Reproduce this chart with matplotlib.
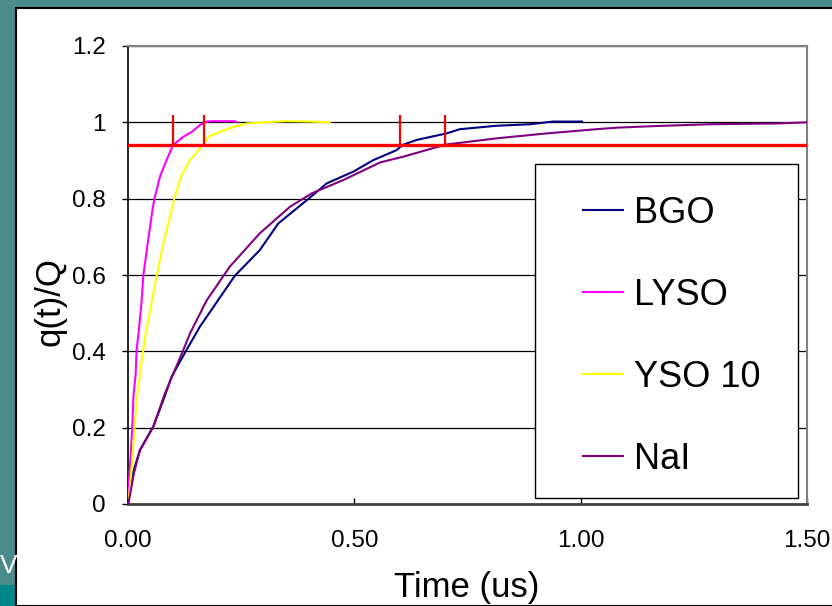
import matplotlib.pyplot as plt
from matplotlib.patches import Rectangle

plt.rcParams['font.family'] = ['Liberation Sans', 'DejaVu Sans']

# integrated charge fraction q(t)/Q vs time (us)
t_bgo = [0, 0.0037, 0.015, 0.0265, 0.056, 0.078, 0.0965, 0.129, 0.159, 0.199, 0.236, 0.291,
         0.332, 0.398, 0.439, 0.498, 0.542, 0.593, 0.607, 0.638, 0.704, 0.733, 0.814, 0.888,
         0.939, 1.003]
q_bgo = [0, 0.045, 0.098, 0.141, 0.203, 0.272, 0.334, 0.403, 0.465, 0.534, 0.598, 0.665,
         0.735, 0.799, 0.840, 0.871, 0.901, 0.927, 0.941, 0.954, 0.971, 0.982, 0.991, 0.995,
         1.002, 1.002]

t_lyso = [0, 0.002, 0.0066, 0.0095, 0.012, 0.017, 0.019, 0.024, 0.030, 0.034, 0.0435, 0.054,
          0.058, 0.0707, 0.085, 0.100, 0.122, 0.141, 0.159, 0.174, 0.188, 0.236, 0.241]
q_lyso = [0, 0.058, 0.141, 0.203, 0.281, 0.342, 0.403, 0.456, 0.53, 0.600, 0.683, 0.770,
          0.798, 0.858, 0.901, 0.941, 0.962, 0.975, 0.993, 1.002, 1.003, 1.003, 1.0]

t_yso = [0, 0.003, 0.0095, 0.0147, 0.019, 0.0285, 0.039, 0.051, 0.063, 0.078, 0.0965, 0.1016,
         0.117, 0.137, 0.166, 0.177, 0.203, 0.233, 0.262, 0.30, 0.35, 0.40, 0.446]
q_yso = [0, 0.028, 0.115, 0.203, 0.272, 0.360, 0.447, 0.52, 0.596, 0.683, 0.770, 0.798,
         0.858, 0.901, 0.941, 0.962, 0.975, 0.988, 0.997, 1.0, 1.003, 1.002, 1.0]

t_nai = [0, 0.0015, 0.013, 0.026, 0.056, 0.0817, 0.122, 0.137, 0.174, 0.225, 0.291, 0.358,
         0.406, 0.476, 0.557, 0.608, 0.682, 0.704, 0.814, 0.925, 1.035, 1.08, 1.16, 1.286,
         1.434, 1.5]
q_nai = [0, 0.005, 0.080, 0.141, 0.203, 0.290, 0.403, 0.447, 0.534, 0.622, 0.709, 0.779,
         0.814, 0.849, 0.895, 0.910, 0.935, 0.942, 0.958, 0.971, 0.982, 0.986, 0.990, 0.995,
         0.997, 1.0]

names = ['BGO', 'LYSO', 'YSO 10', 'NaI']
colors = ['#000080', '#ff00ff', '#ffff00', '#800080']

# 94% level and the times where each curve crosses it
level = 0.94
t_cross = [0.10, 0.167, 0.60, 0.70]
marker_top = 1.02

yticks = [0, 0.2, 0.4, 0.6, 0.8, 1.0, 1.2]
ytick_labels = ['0', '0.2', '0.4', '0.6', '0.8', '1', '1.2']
xticks = [0, 0.5, 1.0, 1.5]
xtick_labels = ['0.00', '0.50', '1.00', '1.50']

W, H = 832, 606
fig = plt.figure(figsize=(W / 100, H / 100), dpi=100, facecolor='#4b8b8b')

# white slide panel behind the chart
fig.patches.append(Rectangle((16 / W, 0), 1, 1 - 8 / H, transform=fig.transFigure,
                             facecolor='white', edgecolor='black', lw=1.5, zorder=-2))
fig.patches.append(Rectangle((0, 0), 15 / W, 21 / H, transform=fig.transFigure,
                             facecolor='#00878a', edgecolor='none', zorder=-2))
fig.text(0, 1 - 566 / H, 'V', color='white', fontsize=19, ha='left', va='center')

ax = fig.add_axes([128 / W, 1 - 504 / H, (807 - 128) / W, (504 - 46) / H])
ax.set_zorder(1)
ax.set_facecolor('white')

series = [(t_bgo, q_bgo), (t_lyso, q_lyso), (t_yso, q_yso), (t_nai, q_nai)]
handles = []
for (tt, qq), name, c in zip(series, names, colors):
    h, = ax.plot(tt, qq, color=c, lw=1.5, label=name, zorder=3)
    handles.append(h)

ax.axhline(level, color='#ff0000', lw=2.4, zorder=4)
ax.vlines(t_cross, level, marker_top, color='#ff0000', lw=1.6, zorder=4)

ax.set_xlim(0, 1.5)
ax.set_ylim(0, 1.2)
ax.set_yticks(yticks)
ax.set_yticklabels(ytick_labels)
ax.set_xticks(xticks)
ax.set_xticklabels(xtick_labels)
ax.tick_params(axis='y', direction='out', length=4, width=1, labelsize=17.5, pad=12)
ax.tick_params(axis='x', direction='in', length=4, width=1, labelsize=17.5, pad=19)
for y in yticks[1:]:
    ax.axhline(y, color='black', lw=0.9, zorder=1)

ax.spines['left'].set_color('black')
ax.spines['left'].set_linewidth(1.2)
for s in ['top', 'right']:
    ax.spines[s].set_color('#808080')
    ax.spines[s].set_linewidth(1.5)
ax.spines['bottom'].set_color('#404040')
ax.spines['bottom'].set_linewidth(2)

fig.text(50 / W, 1 - 302 / H, 'q(t)/Q', rotation=90, fontsize=25, ha='center', va='center')
fig.text(467 / W, 1 - 588 / H, 'Time (us)', fontsize=25, ha='center', va='center')

# legend box sits over the gridlines
fig.patches.append(Rectangle((535 / W, 1 - 498 / H), (798 - 535) / W, (498 - 164) / H,
                             transform=fig.transFigure, facecolor='white',
                             edgecolor='black', lw=1, zorder=5))
leg = fig.legend(handles=handles, loc='upper left', bbox_to_anchor=(583 / W, 1 - 196 / H),
                 frameon=False, fontsize=26, borderpad=0, borderaxespad=0,
                 handlelength=1.1, handletextpad=0.3, labelspacing=1.3)
leg.set_zorder(6)
for ln in leg.get_lines():
    ln.set_linewidth(1.5)

fig.savefig('out.png', dpi=100, facecolor=fig.get_facecolor())
